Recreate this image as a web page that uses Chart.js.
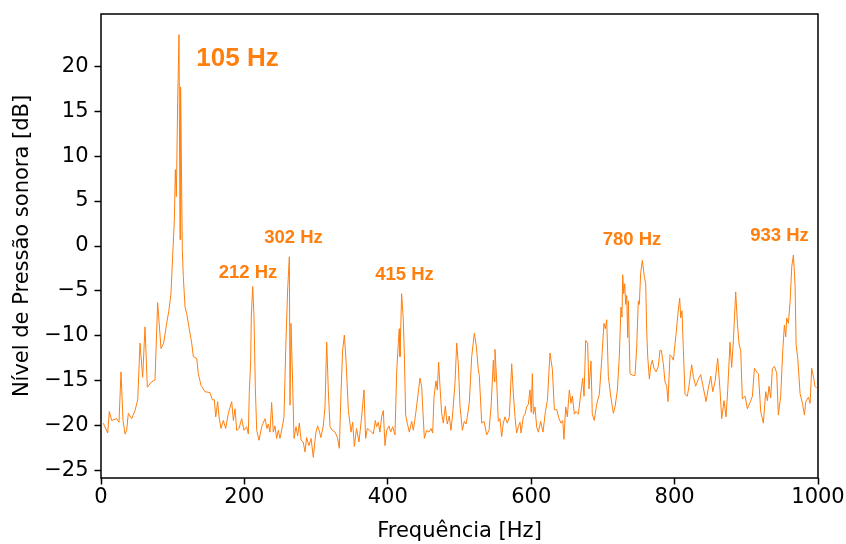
<!DOCTYPE html>
<html>
<head>
<meta charset="utf-8">
<script src="https://cdn.jsdelivr.net/npm/chart.js@4.4.1/dist/chart.umd.min.js"></script>
<style>
html,body{margin:0;padding:0;background:#fff;}
#wrap{width:846px;height:544px;}
</style>
</head>
<body>
<div id="wrap"><canvas id="c" width="846" height="544"></canvas></div>
<script>
const freqs = [3.2,9.3,11.6,14.9,21.9,25.1,27.9,30.7,33.5,35.8,38.1,42.8,47.4,51.2,54.4,58.1,61.4,64.6,70.7,75.3,79.0,83.7,87.4,91.6,94.8,97.6,99.5,102.3,103.7,105.1,106.9,108.8,110.2,111.0,113.4,114.8,117.2,119.5,121.8,126.5,128.8,133.5,135.7,139.5,145,152,155.3,158,160,162.7,164.6,167.4,170.6,173.9,177.6,182.3,184.6,186.9,189.3,192.5,196.2,199.4,203.2,205.5,206.8,208.8,209.6,211.6,213.4,215.2,217.2,220.4,224.1,228.7,231.5,
233.4,235.7,238,240.3,242.6,245,247.3,249.6,252.9,255.2,257.6,260.3,262.7,263.6,265,267.3,269.2,272,274.3,276.6,279,282,284.5,286.8,290,293,296.1,299.4,302,304.3,306.6,309.9,312.4,314.8,317,319.4,322.6,326.4,329.7,332.4,334.7,337,339.4,341.7,345,348.7,
351,353.3,356.4,359.8,363.5,366.8,369.1,371.4,375.1,379.8,382.6,384.4,386.8,389,391.4,393.7,396.1,398.4,401.7,404,406.8,410,412.4,414.7,416,417,419.3,421.6,423,424.9,427.2,430,433.3,435.6,438.8,441.7,444.9,447.2,448.6,451,454.2,457.5,460.3,462.6,464.4,467.2,469,470.9,472.8,475.1,477.4,480.2,482.9,485.7,488.1,490.4,493.7,496.1,498.4,500.7,504,506.7,509.1,510.9,513.7,517,520.7,
523.4,526.2,527.6,531,534.3,537.9,541.2,544,547.2,548.6,549.5,551.8,554.1,556.4,558.8,561.1,563.4,566.7,569.5,572.8,575.1,577.4,579.7,582.1,584.4,585.8,589,591.4,593.7,596,598.3,600,601.6,603,605.3,607.6,610,613.2,616.5,619.8,622.6,626.2,629.5,632.3,635.6,638.8,641.6,644,645.7,648.1,650.4,653.2,655.5,657.4,660.2,662.5,665.8,669,671.8,673.7,676,678.7,680.6,683.4,685.2,688,691.3,695,
698.3,701.5,703.4,705.3,707.6,710.9,714.6,716.9,720.2,722.9,725.2,726.6,727.6,729,730.4,731.8,733.2,734.6,735.5,737.8,742.4,744.8,747.1,749.4,750.8,752.7,755,757.8,759.7,761.1,762.5,764.8,766.6,768.9,771.3,774.1,777.3,779.6,781.5,784.3,786.6,789,790.8,793.6,796,798.3,802,805.3,807.1,808.5,810.3,812.2,814.5,817.7,820.1,823.8,826.1,829.4,833.1,836.4,840.1,843.8,847.1,850.4,853.2,856.4,
860.1,863.3,865.7,868.9,871.7,874,877.3,879.6,882,885.2,887.6,889.9,892.2,894.5,898.3,901.5,905.2,908.5,911.3,914.5,916.9,920.1,923.8,927.1,929.4,931.7,934,936.4,939.2,942.4,944.7,948,950.8,953.1,955,956.4,958.7,961.1,963.4,965.7,968,969.5,971.8,975,978.3,981.1,983,986.7,989,991.2,994,995.8,998];

const levels = [-19.7,-20.8,-18.4,-19.4,-19.2,-19.6,-14.0,-19.4,-20.9,-20.5,-18.6,-19.2,-18.3,-17.1,-10.8,-14.6,-9.0,-15.7,-15.1,-14.9,-6.3,-11.4,-10.8,-8.6,-7.1,-5.3,-1.9,2.9,8.5,5.5,15.9,23.5,0.7,17.7,-0.4,-3.4,-6.8,-7.5,-8.6,-10.8,-12.3,-12.5,-14.2,-15.5,-16.2,-16.3,-17.1,-17.1,-19.0,-17.3,-19.0,-20.3,-19.4,-20.3,-18.6,-17.3,-19.4,-18.1,-20.5,-20.3,-19.2,-20.5,-20.1,-20.9,-16.4,-12.7,-7.9,-4.5,-7.9,-15.7,-20.5,-21.6,-20.1,-19.2,-20.3,
-19.8,-20.7,-17.4,-20.7,-20,-21.4,-20.5,-21.4,-20.1,-19,-11.6,-4.9,-1.2,-17.7,-8.6,-15.3,-21.4,-20.1,-21.1,-19.7,-21.6,-21.8,-22.9,-21.3,-22.2,-21.4,-23.5,-20.9,-20,-20.5,-21.3,-20.1,-17.9,-10.7,-16,-20.1,-20.5,-20.7,-21.3,-22.5,-16.4,-11.6,-9.9,-12.7,-18.3,-20.7,
-19.6,-22.3,-20.3,-21.8,-19,-16,-21.4,-20.3,-20.5,-20.9,-19.4,-20.1,-19.6,-20.7,-19,-18.3,-22.2,-20.5,-20,-20.7,-20.1,-21,-14,-10.7,-9.2,-12.3,-5.3,-8.2,-11.8,-18.8,-19.7,-20.7,-19.5,-20.5,-18.7,-16.8,-14.7,-15.6,-17.8,-21.4,-20.5,-20.7,-20.3,-20.8,-16.8,-15,-16,-12.9,-15.6,-18.6,-19.7,-17.8,-19.8,-18.9,-20.5,-18.7,-15.3,-10.8,-13.2,-17.8,-20.5,-19.5,-19.8,-19,-17.4,-12.3,-9.7,
-11.1,-13.7,-14.4,-19.7,-19.5,-21,-20.5,-17.9,-12.7,-15.1,-11.5,-14.9,-19.5,-19.2,-21.2,-19.7,-19,-19.7,-19,-13.1,-16.4,-19,-20.8,-20.1,-19.6,-20.8,-19,-18.7,-17.9,-17.6,-16,-18.5,-14.2,-18.7,-17.9,-20.1,-20.7,-19.5,-20.7,-18.4,-17.2,-11.9,-13.7,-18.2,-18.2,-19.2,-19.7,-19.4,-21.5,-17.9,-19,-16,-17.5,-16.7,-18.7,-18.4,-18.7,-16.5,-14.7,-16.7,-10.5,-10.8,-15.9,-12.8,-18.7,-19.4,-17.6,-16.5,
-12.7,-8.6,-9.2,-8.2,-14.5,-16.7,-18.6,-17.9,-16,-12.3,-6.8,-7.9,-3.2,-5.3,-4.2,-6.5,-5.5,-10.2,-6.1,-14.2,-14.4,-14.4,-11.3,-6.1,-6.5,-3,-1.6,-3.4,-4.2,-9.4,-12.3,-14.8,-13.4,-12.7,-13.6,-14,-13.4,-11.6,-11.6,-13.1,-15.1,-15.6,-17.3,-12.1,-12.3,-12.7,-9.8,-7,-5.8,-8,-7.2,-11.5,-16.5,-16.7,-15.6,-13.2,-14.5,-15.6,-14.8,-14.3,-15.8,-17.3,-15.8,-14.5,-16.2,-15.1,
-12.5,-16,-19.2,-17.2,-19,-16.1,-10.7,-13.5,-10.5,-5.1,-8.6,-10.9,-11.6,-17,-16.7,-18.1,-17.4,-16.7,-13.6,-14,-14.2,-18.4,-19.7,-16.2,-17.2,-15.6,-16.9,-13.6,-13.4,-14.1,-18.8,-16.7,-11.7,-8.8,-10.1,-8,-8.6,-6.2,-2.3,-1,-4.3,-11,-12.5,-16.4,-17.5,-18.8,-17.3,-16.8,-17.5,-13.6,-14.7,-15.6,-15.8];

const xTicks = [0,200,400,600,800,1000];
const yTicks = [-25,-20,-15,-10,-5,0,5,10,15,20];

const annoText = ['105 Hz','212 Hz','302 Hz','415 Hz','780 Hz','933 Hz'];
const annoX = [190.4,205,268.5,423.3,740.6,946.3];
const annoY = [20.8,-3.0,0.9,-3.2,0.7,1.1];
const annoSize = [26,18.5,18.5,18.5,18.5,18.5];

const ORANGE = '#ff7f0e';
const TICKFONT = {family:'"DejaVu Sans"', size:21};

const framePlugin = {
  id:'frame',
  afterDatasetsDraw(chart){
    const {ctx, chartArea:a, scales} = chart;
    ctx.save();
    ctx.fillStyle = ORANGE;
    ctx.textAlign = 'center';
    ctx.textBaseline = 'middle';
    for(let i=0;i<annoText.length;i++){
      ctx.font = 'bold ' + annoSize[i] + 'px "Liberation Sans", Arial, sans-serif';
      ctx.fillText(annoText[i], scales.x.getPixelForValue(annoX[i]), scales.y.getPixelForValue(annoY[i]));
    }
    ctx.strokeStyle = '#000';
    ctx.lineWidth = 1.5;
    ctx.strokeRect(a.left, a.top, a.right-a.left, a.bottom-a.top);
    ctx.restore();
  }
};

new Chart(document.getElementById('c'), {
  type:'line',
  data:{
    datasets:[{
      data: freqs.map((f,i)=>({x:f, y:levels[i]})),
      borderColor: ORANGE,
      borderWidth: 1,
      pointRadius: 0,
      tension: 0,
      fill: false
    }]
  },
  options:{
    responsive:false,
    animation:false,
    layout:{padding:{left:0, top:14, right:28, bottom:0}},
    plugins:{legend:{display:false}, tooltip:{enabled:false}},
    scales:{
      x:{
        type:'linear', min:0, max:1000,
        afterBuildTicks(s){ s.ticks = xTicks.map(v=>({value:v})); },
        afterFit(s){ s.height = 66; s.paddingLeft = 0; s.paddingRight = 0; },
        border:{display:false},
        grid:{display:true, drawOnChartArea:false, drawTicks:true, tickLength:6.5, tickWidth:1.5, tickColor:'#000'},
        ticks:{color:'#000', font:TICKFONT, padding:0, maxRotation:0, autoSkip:false,
          callback:(v)=> String(v)},
        title:{display:true, text:'Frequência [Hz]', color:'#000', font:TICKFONT, padding:{top:0,bottom:0}}
      },
      y:{
        type:'linear', min:-25.8, max:25.8,
        afterBuildTicks(s){ s.ticks = yTicks.map(v=>({value:v})); },
        afterFit(s){ s.width = 101; s.paddingTop = 0; s.paddingBottom = 0; },
        border:{display:false},
        grid:{display:true, drawOnChartArea:false, drawTicks:true, tickLength:6.5, tickWidth:1.5, tickColor:'#000'},
        ticks:{color:'#000', font:TICKFONT, padding:6, autoSkip:false,
          callback:(v)=> String(v).replace('-', '\u2212')},
        title:{display:true, text:'Nível de Pressão sonora [dB]', color:'#000', font:TICKFONT, padding:{top:10,bottom:0}}
      }
    }
  },
  plugins:[framePlugin]
});
</script>
</body>
</html>
